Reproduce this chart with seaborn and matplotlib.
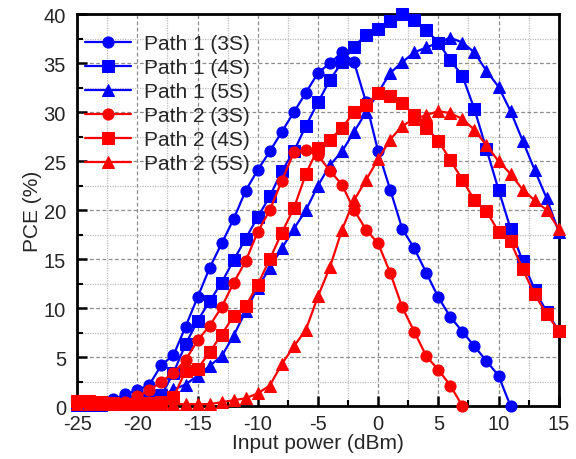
import numpy as np
import pandas as pd
import matplotlib
matplotlib.use("Agg")
import matplotlib.pyplot as plt
from matplotlib.ticker import MultipleLocator
import seaborn as sns

# Input power sweep (dBm) for each configuration
x_p1_3s = list(range(-25, 12))
x_p2_3s = list(range(-25, 8))
x_full = list(range(-25, 16))

# PCE (%) per configuration
pce_p1_3s = [0.1, 0.1, 0.1, 0.7, 1.2, 1.6, 2.2, 4.2, 5.2, 8.1, 11.1, 14.1, 16.6,
             19.1, 22.0, 24.1, 26.0, 28.0, 30.0, 32.0, 34.0, 35.0, 36.1, 35.1,
             31.0, 26.0, 22.1, 18.1, 16.1, 13.6, 11.1, 9.1, 7.6, 6.1, 4.6, 3.1, 0.0]
pce_p1_4s = [0.2, 0.2, 0.2, 0.3, 0.4, 0.5, 0.7, 1.1, 3.4, 6.3, 8.7, 10.7, 12.6,
             14.9, 17.1, 19.3, 21.4, 24.0, 26.0, 28.6, 31.0, 33.3, 35.1, 36.7,
             37.9, 38.5, 39.3, 40.0, 39.4, 38.4, 37.1, 35.3, 33.7, 30.3, 26.2,
             22.1, 18.1, 14.8, 11.9, 9.6, 7.7]
pce_p1_5s = [0.1, 0.1, 0.1, 0.2, 0.3, 0.4, 0.6, 1.0, 1.7, 2.2, 3.1, 4.1, 5.1,
             7.2, 9.7, 12.1, 14.1, 16.1, 18.1, 20.0, 22.5, 24.6, 26.0, 28.0,
             30.0, 32.0, 34.0, 35.1, 36.1, 36.6, 37.1, 37.6, 37.1, 36.1, 34.2,
             32.6, 30.1, 27.1, 24.1, 21.2, 17.8]
pce_p2_3s = [0.5, 0.4, 0.2, 0.2, 0.4, 1.0, 1.6, 2.5, 3.4, 4.7, 6.7, 8.2, 10.1,
             12.6, 14.8, 17.8, 20.0, 23.0, 25.9, 26.1, 25.6, 24.0, 22.6, 20.0,
             18.0, 16.6, 13.6, 10.1, 7.6, 5.1, 3.7, 2.1, 0.0]
pce_p2_4s = [0.5, 0.5, 0.4, 0.3, 0.2, 0.2, 0.3, 0.4, 0.9, 3.6, 3.8, 5.5, 7.3,
             9.2, 10.2, 12.4, 15.0, 17.7, 20.2, 23.7, 26.3, 27.2, 28.4, 30.0,
             30.7, 32.0, 31.6, 30.9, 29.7, 28.4, 27.1, 25.1, 23.1, 21.0, 19.9,
             17.8, 16.8, 14.0, 11.4, 9.4, 7.7]
pce_p2_5s = [0.2, 0.2, 0.2, 0.2, 0.2, 0.2, 0.2, 0.2, 0.2, 0.2, 0.2, 0.2, 0.4,
             0.6, 0.8, 1.3, 2.1, 4.3, 6.1, 7.8, 11.2, 14.2, 18.0, 21.0, 23.1,
             25.2, 27.2, 28.6, 29.3, 29.7, 30.1, 29.9, 29.3, 28.2, 26.6, 25.0,
             23.7, 22.1, 21.0, 20.0, 18.1]

labels = ["Path 1 (3S)", "Path 1 (4S)", "Path 1 (5S)",
          "Path 2 (3S)", "Path 2 (4S)", "Path 2 (5S)"]
xs = [x_p1_3s, x_full, x_full, x_p2_3s, x_full, x_full]
ys = [pce_p1_3s, pce_p1_4s, pce_p1_5s, pce_p2_3s, pce_p2_4s, pce_p2_5s]
colors = ["#0000ff", "#0000ff", "#0000ff", "#ff0000", "#ff0000", "#ff0000"]
markers = ["o", "s", "^", "o", "s", "^"]

sns.set_theme(style="white")
plt.rcParams["font.family"] = ["Liberation Sans", "DejaVu Sans"]
plt.rcParams["axes.unicode_minus"] = False

fig = plt.figure(figsize=(5.76, 4.6), dpi=100)
ax = fig.add_axes([0.134, 0.115, 0.836, 0.852])

for lab, xv, yv, c, m in zip(labels, xs, ys, colors, markers):
    df = pd.DataFrame({"x": xv, "y": yv})
    sns.lineplot(data=df, x="x", y="y", ax=ax, color=c, marker=m,
                 markersize=8, markeredgecolor=c, linewidth=1.6,
                 label=lab, clip_on=False, zorder=3)

ax.set_xlim(-25, 15)
ax.set_ylim(0, 40)
ax.xaxis.set_major_locator(MultipleLocator(5))
ax.xaxis.set_minor_locator(MultipleLocator(2.5))
ax.yaxis.set_major_locator(MultipleLocator(5))
ax.yaxis.set_minor_locator(MultipleLocator(2.5))

ax.grid(True, which="major", color="#8c8c8c", linestyle=(0, (3, 2)), linewidth=0.9)
ax.grid(True, which="minor", color="#bdbdbd", linestyle=(0, (1, 1)), linewidth=0.9)
ax.set_axisbelow(True)

for s in ax.spines.values():
    s.set_color("black")
    s.set_linewidth(2.0)

ax.tick_params(axis="x", which="major", pad=6)
ax.tick_params(axis="y", which="major", pad=8)
ax.tick_params(axis="both", which="major", direction="in", length=7, width=1.8,
               labelsize=14.5, color="black",
               bottom=True, left=True, top=False, right=False)
ax.tick_params(axis="both", which="minor", direction="in", length=4, width=1.5,
               color="black", bottom=True, left=True, top=False, right=False)

ax.set_xlabel("Input power (dBm)", fontsize=15, labelpad=0)
ax.set_ylabel("PCE (%)", fontsize=15, labelpad=1)

leg = ax.legend(loc="upper left", bbox_to_anchor=(-0.005, 0.975), frameon=False,
                fontsize=15, handlelength=2.2, handletextpad=0.6,
                labelspacing=0.24, borderaxespad=0.3, borderpad=0.2)

fig.savefig("out.png", dpi=100)
